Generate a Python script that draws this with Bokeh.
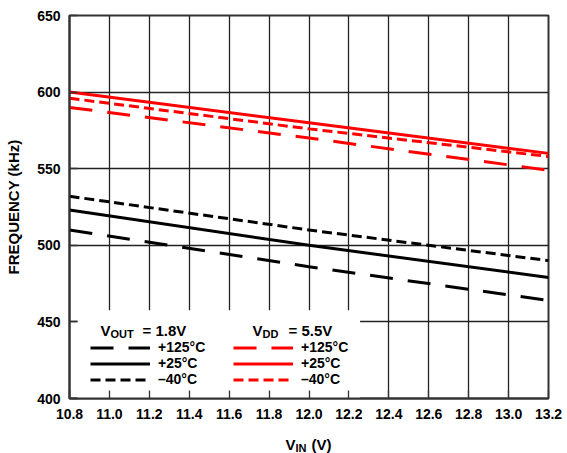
from bokeh.plotting import figure
from bokeh.layouts import column
from bokeh.models import (Range1d, FixedTicker, NumeralTickFormatter, Legend, LegendItem,
                          Label, BoxAnnotation)
from bokeh.embed import file_html
from bokeh.resources import INLINE

# ---- data ----
vin = [10.8, 12.0, 13.2]
vout_125 = [510, 486, 464]
vout_25 = [523, 500, 479]
vout_m40 = [532, 510, 490]
vdd_125 = [590, 570, 549]
vdd_25 = [600, 580, 560]
vdd_m40 = [596, 576, 558]
x_ticks = [10.8, 11.0, 11.2, 11.4, 11.6, 11.8, 12.0, 12.2, 12.4, 12.6, 12.8, 13.0, 13.2]
y_ticks = [400, 450, 500, 550, 600, 650]
temp_labels = ["+125°C", "+25°C", "\u201340°C"]

FONT = "Liberation Sans"
RED = "#ff0000"

p = figure(width=567, height=423, output_backend="svg", toolbar_location=None,
           x_range=Range1d(10.8, 13.2), y_range=Range1d(400, 650),
           min_border_left=69, min_border_right=19, min_border_top=15, min_border_bottom=25)
p.background_fill_color = "white"
p.border_fill_color = "white"
p.outline_line_color = "#333333"
p.outline_line_width = 2

for ax in (p.xaxis[0], p.yaxis[0]):
    ax.major_tick_in = 8
    ax.major_tick_out = 0
    ax.minor_tick_in = 0
    ax.minor_tick_out = 0
    ax.axis_line_color = "#333333"
    ax.axis_line_width = 2
    ax.major_tick_line_color = "#333333"
    ax.major_tick_line_width = 1.3
    ax.major_label_text_font = FONT
    ax.major_label_text_font_style = "bold"
    ax.major_label_text_font_size = "14px"
    ax.major_label_text_color = "black"

p.xaxis.ticker = FixedTicker(ticks=x_ticks)
p.xaxis.formatter = NumeralTickFormatter(format="0.0")
p.xaxis.major_label_standoff = 10
p.yaxis.ticker = FixedTicker(ticks=y_ticks)
p.yaxis.major_label_standoff = 9
p.yaxis.axis_label = "FREQUENCY (kHz)"
p.yaxis.axis_label_text_font = FONT
p.yaxis.axis_label_text_font_style = "bold"
p.yaxis.axis_label_text_font_size = "15px"
p.yaxis.axis_label_text_color = "black"
p.yaxis.axis_label_standoff = 12

p.xgrid.ticker = FixedTicker(ticks=x_ticks)
p.ygrid.ticker = FixedTicker(ticks=y_ticks)
p.grid.grid_line_color = "#222222"
p.grid.grid_line_width = 1.3

# white legend backdrop that hides the grid
p.add_layout(BoxAnnotation(left=10.84, right=12.256, bottom=400, top=457.6,
                           fill_color="white", fill_alpha=1, line_alpha=0, level="underlay"))

b125 = p.line(vin, vout_125, line_color="black", line_width=3, line_dash="23 15")
b25 = p.line(vin, vout_25, line_color="black", line_width=3)
bm40 = p.line(vin, vout_m40, line_color="black", line_width=3, line_dash="10 5")
r125 = p.line(vin, vdd_125, line_color=RED, line_width=3, line_dash="23 15")
r25 = p.line(vin, vdd_25, line_color=RED, line_width=3)
rm40 = p.line(vin, vdd_m40, line_color=RED, line_width=3, line_dash="10 5")


def make_legend(renderers, x):
    lg = Legend(items=[LegendItem(label=t, renderers=[r]) for t, r in zip(temp_labels, renderers)],
                location=(x, 11), orientation="vertical")
    lg.margin = 0
    lg.padding = 0
    lg.spacing = 0
    lg.border_line_alpha = 0
    lg.background_fill_alpha = 0
    lg.glyph_width = 60
    lg.glyph_height = 15
    lg.label_height = 15
    lg.label_standoff = 8
    lg.label_text_font = FONT
    lg.label_text_font_style = "bold"
    lg.label_text_font_size = "14px"
    lg.label_text_color = "black"
    lg.label_text_baseline = "middle"
    return lg


p.add_layout(make_legend([b125, b25, bm40], 21), "center")
p.add_layout(make_legend([r125, r25, rm40], 164), "center")


def lab(fig, y0, text, xo, yo, size="15px"):
    fig.add_layout(Label(x=10.8, y=y0, x_offset=xo, y_offset=yo, text=text,
                         text_font=FONT, text_font_style="bold", text_font_size=size,
                         text_color="black", text_align="left", text_baseline="alphabetic"))


# legend headers
lab(p, 400, "V", 31, 68)
lab(p, 400, "OUT", 41, 65, "11px")
lab(p, 400, "= 1.8V", 73, 68)
lab(p, 400, "V", 183, 68)
lab(p, 400, "DD", 193, 65, "11px")
lab(p, 400, "= 5.5V", 219, 68)

# x axis title strip (separate figure so the subscript text is not clipped)
p2 = figure(width=567, height=30, output_backend="svg", toolbar_location=None,
            x_range=p.x_range, y_range=Range1d(0, 1),
            min_border_left=69, min_border_right=19, min_border_top=0, min_border_bottom=0)
p2.axis.visible = False
p2.grid.visible = False
p2.outline_line_color = None
p2.background_fill_color = "white"
p2.border_fill_color = "white"
lab(p2, 0.5, "V", 216, -6)
lab(p2, 0.5, "IN", 226, -9, "11px")
lab(p2, 0.5, "(V)", 242, -6)

layout = column(p, p2, spacing=0)
open("out.html", "w").write(file_html(layout, INLINE))
